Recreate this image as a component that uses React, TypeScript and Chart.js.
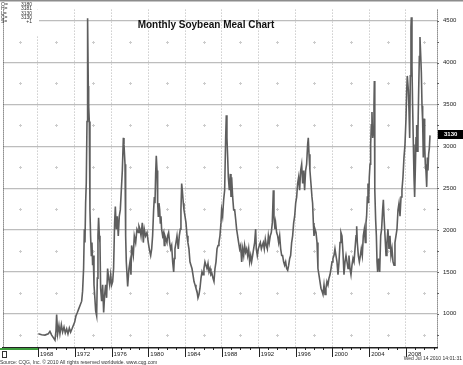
import React, { useEffect, useRef } from "react";
import { Chart, registerables } from "chart.js";

Chart.register(...registerables);

// Monthly soybean meal prices
const dates = [
  1968.04, 1968.40, 1968.76, 1969.12, 1969.30, 1969.49, 1969.67, 1969.85, 1969.96, 1970.03,
  1970.14, 1970.28, 1970.39, 1970.54, 1970.68, 1970.83, 1970.97, 1971.12, 1971.26, 1971.41,
  1971.55, 1971.70, 1971.84, 1971.99, 1972.13, 1972.28, 1972.42, 1972.56, 1972.75, 1972.85,
  1972.96, 1973.04, 1973.11, 1973.18, 1973.25, 1973.33, 1973.36, 1973.43, 1973.47, 1973.51,
  1973.58, 1973.65, 1973.72, 1973.80, 1973.87, 1973.94, 1974.01, 1974.09, 1974.16, 1974.27,
  1974.38, 1974.45, 1974.52, 1974.59, 1974.67, 1974.74, 1974.81, 1974.92, 1975.03, 1975.14,
  1975.25, 1975.35, 1975.46, 1975.57, 1975.68, 1975.79, 1975.90, 1976.01, 1976.12, 1976.22,
  1976.33, 1976.41, 1976.51, 1976.62, 1976.73, 1976.84, 1976.95, 1977.06, 1977.17, 1977.28,
  1977.35, 1977.46, 1977.53, 1977.60, 1977.75, 1977.89, 1978.00, 1978.11, 1978.18, 1978.36,
  1978.47, 1978.62, 1978.76, 1978.91, 1978.98, 1979.09, 1979.20, 1979.34, 1979.45, 1979.56,
  1979.70, 1979.85, 1979.99, 1980.10, 1980.25, 1980.36, 1980.46, 1980.57, 1980.65, 1980.72,
  1980.79, 1980.86, 1980.94, 1981.01, 1981.08, 1981.15, 1981.23, 1981.30, 1981.37, 1981.44,
  1981.55, 1981.66, 1981.73, 1981.80, 1981.91, 1982.02, 1982.09, 1982.20, 1982.31, 1982.42,
  1982.53, 1982.64, 1982.75, 1982.82, 1982.89, 1983.00, 1983.11, 1983.25, 1983.36, 1983.47,
  1983.54, 1983.62, 1983.69, 1983.80, 1983.87, 1983.98, 1984.09, 1984.20, 1984.30, 1984.41,
  1984.52, 1984.63, 1984.74, 1984.85, 1984.96, 1985.07, 1985.17, 1985.28, 1985.39, 1985.50,
  1985.61, 1985.72, 1985.83, 1985.94, 1986.04, 1986.15, 1986.26, 1986.37, 1986.48, 1986.59,
  1986.70, 1986.80, 1986.91, 1987.02, 1987.13, 1987.24, 1987.35, 1987.46, 1987.57, 1987.67,
  1987.78, 1987.89, 1987.96, 1988.07, 1988.18, 1988.29, 1988.40, 1988.47, 1988.54, 1988.62,
  1988.69, 1988.80, 1988.91, 1988.98, 1989.05, 1989.16, 1989.27, 1989.38, 1989.49, 1989.59,
  1989.70, 1989.81, 1989.92, 1990.03, 1990.14, 1990.25, 1990.36, 1990.46, 1990.57, 1990.68,
  1990.79, 1990.90, 1991.01, 1991.12, 1991.22, 1991.33, 1991.44, 1991.55, 1991.66, 1991.73,
  1991.84, 1991.95, 1992.06, 1992.17, 1992.28, 1992.38, 1992.49, 1992.60, 1992.71, 1992.82,
  1992.93, 1993.04, 1993.14, 1993.25, 1993.36, 1993.47, 1993.58, 1993.65, 1993.76, 1993.83,
  1993.94, 1994.05, 1994.16, 1994.27, 1994.38, 1994.49, 1994.59, 1994.70, 1994.81, 1994.92,
  1995.03, 1995.14, 1995.25, 1995.36, 1995.46, 1995.57, 1995.68, 1995.79, 1995.90, 1996.01,
  1996.12, 1996.22, 1996.33, 1996.44, 1996.55, 1996.66, 1996.77, 1996.88, 1996.98, 1997.09,
  1997.20, 1997.31, 1997.38, 1997.46, 1997.56, 1997.67, 1997.78, 1997.85, 1997.93, 1998.00,
  1998.11, 1998.22, 1998.33, 1998.43, 1998.54, 1998.65, 1998.76, 1998.87, 1998.98, 1999.09,
  1999.20, 1999.30, 1999.41, 1999.52, 1999.63, 1999.74, 1999.85, 1999.96, 2000.06, 2000.17,
  2000.28, 2000.39, 2000.50, 2000.61, 2000.72, 2000.83, 2000.93, 2001.04, 2001.15, 2001.26,
  2001.37, 2001.48, 2001.59, 2001.70, 2001.80, 2001.91, 2002.02, 2002.13, 2002.24, 2002.35,
  2002.46, 2002.57, 2002.64, 2002.71, 2002.82, 2002.93, 2003.04, 2003.14, 2003.25, 2003.36,
  2003.47, 2003.58, 2003.65, 2003.72, 2003.80, 2003.87, 2003.94, 2004.01, 2004.09, 2004.16,
  2004.23, 2004.30, 2004.38, 2004.45, 2004.52, 2004.56, 2004.59, 2004.63, 2004.70, 2004.78,
  2004.85, 2004.92, 2005.03, 2005.14, 2005.25, 2005.35, 2005.46, 2005.54, 2005.61, 2005.72,
  2005.83, 2005.93, 2006.04, 2006.15, 2006.26, 2006.37, 2006.48, 2006.59, 2006.70, 2006.80,
  2006.91, 2007.02, 2007.13, 2007.24, 2007.35, 2007.46, 2007.56, 2007.67, 2007.78, 2007.89,
  2008.00, 2008.07, 2008.14, 2008.25, 2008.33, 2008.40, 2008.47, 2008.54, 2008.58, 2008.65,
  2008.72, 2008.80, 2008.87, 2008.94, 2009.01, 2009.09, 2009.16, 2009.23, 2009.30, 2009.38,
  2009.45, 2009.52, 2009.59, 2009.67, 2009.74, 2009.81, 2009.88, 2009.96, 2010.03, 2010.10,
  2010.17, 2010.25, 2010.32, 2010.39, 2010.46, 2010.54, 2010.61,
];

const prices = [
  760, 750, 745, 760, 790, 745, 715, 685, 800, 990,
  760, 860, 760, 870, 780, 840, 770, 820, 760, 830,
  780, 820, 860, 900, 975, 1015, 1055, 1095, 1150, 1270,
  1540, 2010, 1850, 2320, 2555, 3295, 3800, 4530, 3720, 3485,
  3295, 2240, 1930, 1695, 1850, 1580, 1695, 1345, 1230, 1035,
  975, 1425, 1930, 2145, 1930, 1850, 1305, 1150, 1345, 1015,
  1230, 1345, 1190, 1540, 1425, 1345, 1465, 1345, 1385, 1540,
  2085, 2280, 2010, 2165, 1930, 2165, 2240, 2475, 2710, 3100,
  3020, 2785, 1930, 1620, 1325, 1540, 1620, 1465, 1815, 1695,
  1930, 1850, 2010, 1970, 2045, 2010, 1930, 2085, 1850, 2010,
  1930, 1970, 1850, 1775, 1695, 1775, 1930, 2240, 2395, 2320,
  2670, 2885, 2710, 2320, 2165, 2320, 2240, 2085, 2165, 2010,
  1930, 1970, 1815, 1930, 1890, 1850, 1930, 1970, 1850, 1775,
  1815, 1620, 1500, 1660, 1775, 1850, 1930, 1775, 1930, 2010,
  2240, 2555, 2475, 2320, 2240, 2165, 2085, 1930, 1850, 1775,
  1620, 1580, 1540, 1465, 1385, 1345, 1305, 1270, 1190, 1230,
  1305, 1425, 1500, 1465, 1540, 1620, 1580, 1540, 1600, 1500,
  1540, 1465, 1480, 1425, 1385, 1540, 1620, 1775, 1815, 1850,
  1930, 2085, 2240, 2165, 2360, 2475, 3100, 3370, 3100, 2865,
  2630, 2475, 2670, 2395, 2630, 2395, 2240, 2240, 2125, 2010,
  1930, 1850, 1775, 1815, 1620, 1775, 1695, 1815, 1735, 1775,
  1695, 1775, 1620, 1695, 1620, 1695, 1775, 1850, 2010, 1775,
  1695, 1775, 1815, 1850, 1775, 1815, 1850, 1775, 1890, 1815,
  1775, 1930, 1850, 1930, 1970, 2085, 2475, 2165, 2010, 2085,
  1970, 1930, 1850, 1930, 1775, 1695, 1695, 1620, 1580, 1620,
  1540, 1520, 1580, 1660, 1695, 1850, 1930, 2085, 2165, 2320,
  2395, 2555, 2630, 2475, 2710, 2785, 2555, 2710, 2475, 2710,
  2785, 3020, 3100, 2905, 2710, 2555, 2395, 2320, 2085, 1930,
  2010, 1970, 1850, 1540, 1465, 1385, 1305, 1270, 1230, 1345,
  1230, 1305, 1385, 1345, 1425, 1465, 1540, 1620, 1660, 1695,
  1775, 1695, 1620, 1465, 1620, 1850, 1970, 1930, 1735, 1465,
  1620, 1695, 1620, 1540, 1695, 1540, 1465, 1580, 1660, 1620,
  1775, 1930, 2045, 1850, 1695, 1620, 1695, 1775, 1695, 1930,
  2010, 1850, 2085, 2165, 2395, 2555, 2320, 2630, 2785, 3020,
  3255, 3410, 3100, 3175, 3485, 3780, 2905, 2475, 2125, 1930,
  1620, 1500, 1660, 1500, 1930, 2010, 2240, 2360, 2165, 1930,
  1695, 1850, 2010, 1775, 1930, 1695, 1775, 1620, 1580, 1850,
  1930, 2010, 2240, 2320, 2165, 2395, 2475, 2630, 2865, 3020,
  3330, 3645, 3840, 3680, 3410, 3100, 3840, 4420, 4540, 3955,
  3485, 3020, 2630, 2395, 2710, 3100, 3255, 2940, 3175, 3680,
  4070, 4305, 4110, 3875, 3485, 3295, 2865, 3330, 3020, 2785,
  2710, 2515, 2865, 2710, 2905, 2980, 3130,
];

const yearTicks = [1968, 1972, 1976, 1980, 1984, 1988, 1992, 1996, 2000, 2004, 2008];
const priceTicks = [1000, 1500, 2000, 2500, 3000, 3500, 4000, 4500];
const crossYears = [1966, 1970, 1974, 1978, 1982, 1986, 1990, 1994, 1998, 2002, 2006, 2010];
const crossPrices = [750, 1250, 1750, 2250, 2750, 3250, 3750, 4250];
const headerKeys = ["O=", "H=", "L=", "C=", "S="];
const headerValues = ["3180", "3181", "3130", "3130", "+1"];

const titleText = "Monthly Soybean Meal Chart";
const sourceText = "Source: CQG, Inc. \u00a9 2010 All rights reserved worldwide. www.cqg.com";
const dateText = "Wed Jul 14 2010 14:01:31";

const X_MIN = 1964.2;
const X_MAX = 2011.37;
const Y_MIN = 591;
const Y_MAX = 4632;
const FONT = 'Arial, "Liberation Sans", sans-serif';

const decorPlugin = {
  id: "decor",
  beforeDatasetsDraw(chart: any) {
    const { ctx, chartArea: ca, scales } = chart;
    const x = scales.x;
    const y = scales.y;
    ctx.save();
    ctx.strokeStyle = "#cccccc";
    ctx.lineWidth = 1;
    for (const cy of crossYears) {
      for (const cp of crossPrices) {
        const px = Math.round(x.getPixelForValue(cy)) + 0.5;
        const py = Math.round(y.getPixelForValue(cp)) + 0.5;
        if (px < ca.left || px > ca.right || py < ca.top || py > ca.bottom) continue;
        ctx.beginPath();
        ctx.moveTo(px - 1.5, py);
        ctx.lineTo(px + 1.5, py);
        ctx.moveTo(px, py - 1.5);
        ctx.lineTo(px, py + 1.5);
        ctx.stroke();
      }
    }
    ctx.restore();
  },
  afterDraw(chart: any) {
    const { ctx, chartArea: ca, scales, width, height } = chart;
    const x = scales.x;
    const y = scales.y;
    ctx.save();

    // top band
    ctx.fillStyle = "#8c8c8c";
    ctx.fillRect(0, 0, width, 1.5);

    // left and right dotted borders
    ctx.strokeStyle = "#444";
    ctx.lineWidth = 1;
    ctx.setLineDash([1, 1]);
    ctx.beginPath();
    ctx.moveTo(ca.left + 0.5, ca.top);
    ctx.lineTo(ca.left + 0.5, ca.bottom);
    ctx.moveTo(ca.right + 0.5, ca.top);
    ctx.lineTo(ca.right + 0.5, ca.bottom);
    ctx.stroke();
    ctx.setLineDash([]);

    // minor ticks on right axis
    ctx.strokeStyle = "#666";
    for (let v = 750; v < Y_MAX; v += 250) {
      const py = Math.round(y.getPixelForValue(v)) + 0.5;
      ctx.beginPath();
      ctx.moveTo(ca.right, py);
      ctx.lineTo(ca.right + 2, py);
      ctx.stroke();
    }

    // x tick marks
    ctx.strokeStyle = "#222";
    for (const t of yearTicks) {
      const px = Math.round(x.getPixelForValue(t)) + 0.5;
      ctx.beginPath();
      ctx.moveTo(px, ca.bottom);
      ctx.lineTo(px, ca.bottom + 9);
      ctx.stroke();
    }
    for (let yr = 1965; yr <= 2011; yr++) {
      const px = Math.round(x.getPixelForValue(yr)) + 0.5;
      ctx.beginPath();
      ctx.moveTo(px, ca.bottom);
      ctx.lineTo(px, ca.bottom + 2);
      ctx.stroke();
    }

    // green segment on the axis before data
    const gx = x.getPixelForValue(yearTicks[0]);
    ctx.strokeStyle = "#3c9c3c";
    ctx.lineWidth = 2;
    ctx.beginPath();
    ctx.moveTo(0, ca.bottom + 1);
    ctx.lineTo(gx, ca.bottom + 1);
    ctx.stroke();

    // small box bottom-left
    ctx.strokeStyle = "#333";
    ctx.lineWidth = 1;
    ctx.strokeRect(2.5, ca.bottom + 3.5, 4, 6);

    // header block top-left
    ctx.fillStyle = "#fff";
    ctx.fillRect(ca.left + 1, ca.top, 35, 26);
    ctx.fillStyle = "#333";
    ctx.font = `5px ${FONT}`;
    ctx.textBaseline = "middle";
    const rows = [5, 9, 13.5, 17.5, 22];
    headerKeys.forEach((k, i) => {
      ctx.textAlign = "left";
      ctx.fillText(k, 1, rows[i]);
      ctx.textAlign = "right";
      ctx.fillText(headerValues[i], 32, rows[i]);
    });

    // title
    ctx.fillStyle = "#111";
    ctx.font = `bold 10px ${FONT}`;
    ctx.textAlign = "center";
    ctx.textBaseline = "alphabetic";
    ctx.fillText(titleText, 206, 28);

    // last price marker
    const last = prices[prices.length - 1];
    const ly = y.getPixelForValue(last);
    ctx.fillStyle = "#000";
    ctx.fillRect(ca.right + 1, Math.round(ly) - 5, width - ca.right - 1, 9);
    ctx.fillStyle = "#fff";
    ctx.font = `bold 6px ${FONT}`;
    ctx.textAlign = "left";
    ctx.textBaseline = "middle";
    ctx.fillText(String(last), ca.right + 7, Math.round(ly) - 0.5);

    // footer texts
    ctx.fillStyle = "#333";
    ctx.font = `5px ${FONT}`;
    ctx.textAlign = "left";
    ctx.textBaseline = "alphabetic";
    ctx.fillText(sourceText, 0, height - 1);
    ctx.textAlign = "right";
    ctx.fillText(dateText, width - 1, height - 5);

    ctx.restore();
  },
};

export default function App() {
  const ref = useRef<HTMLCanvasElement | null>(null);

  useEffect(() => {
    document.body.style.margin = "0";
    const canvas = ref.current;
    if (!canvas) return;
    Chart.defaults.font.family = FONT;
    const chart = new Chart(canvas, {
      type: "line",
      data: {
        datasets: [
          {
            data: dates.map((d, i) => ({ x: d, y: prices[i] })),
            borderColor: "#5e5e5e",
            borderWidth: 1.6,
            pointRadius: 0,
            fill: false,
            tension: 0,
          },
        ],
      },
      options: {
        animation: false,
        responsive: false,
        maintainAspectRatio: false,
        devicePixelRatio: 1,
        layout: { padding: { left: 3, top: 2, right: 0, bottom: 0 } },
        plugins: {
          legend: { display: false },
          tooltip: { enabled: false },
          title: { display: false },
        },
        scales: {
          x: {
            type: "linear",
            min: X_MIN,
            max: X_MAX,
            afterBuildTicks: (s: any) => {
              s.ticks = yearTicks.map((v) => ({ value: v }));
            },
            afterFit: (s: any) => {
              s.height = 17;
            },
            ticks: {
              align: "start",
              labelOffset: 2,
              padding: 3,
              maxRotation: 0,
              autoSkip: false,
              color: "#222",
              font: { size: 6, family: FONT },
              callback: (v: any) => String(v),
            },
            grid: { color: "#b4b4b4", lineWidth: 1, drawTicks: false },
            border: { display: true, color: "#222", width: 1.5, dash: [1, 2] },
          },
          y: {
            position: "right",
            min: Y_MIN,
            max: Y_MAX,
            afterBuildTicks: (s: any) => {
              s.ticks = priceTicks.map((v) => ({ value: v }));
            },
            afterFit: (s: any) => {
              s.width = 26;
            },
            ticks: {
              padding: 6,
              color: "#222",
              font: { size: 6, family: FONT },
              callback: (v: any) => String(v),
            },
            grid: { color: "#bdbdbd", lineWidth: 1.2, drawTicks: false },
            border: { display: false },
          },
        },
      } as any,
      plugins: [decorPlugin],
    });
    return () => chart.destroy();
  }, []);

  return (
    <canvas
      ref={ref}
      width={463}
      height={365}
      style={{ display: "block", width: "463px", height: "365px" }}
    />
  );
}
